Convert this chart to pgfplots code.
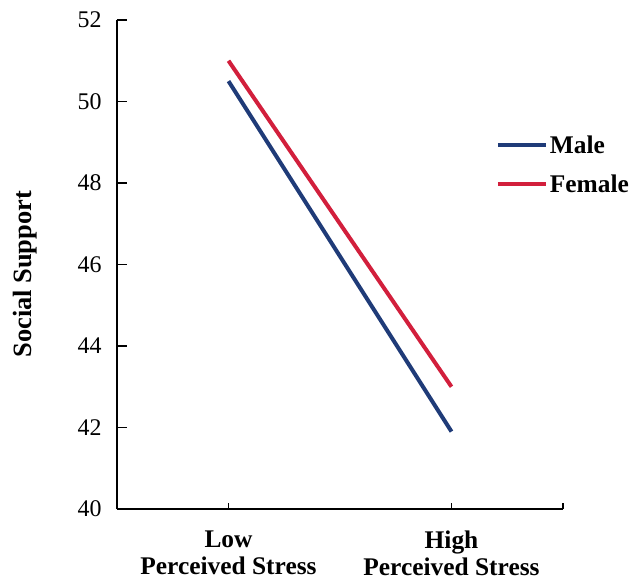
\documentclass[border=0pt]{standalone}
\usepackage{fontspec}
\setmainfont{Liberation Serif}
\usepackage{pgfplots}
\pgfplotsset{compat=1.18}
\definecolor{maleblue}{HTML}{1F3B78}
\definecolor{femred}{HTML}{D21F3C}
\begin{document}
\begin{tikzpicture}
\begin{axis}[
  scale only axis,
  width=446bp, height=489bp,
  xmin=0, xmax=2, ymin=40, ymax=52,
  axis lines*=left,
  axis line style={line width=1.6bp, black, -},
  xtick={0.5,1.5},
  xticklabels={{Low\\Perceived Stress},{High\\Perceived Stress}},
  extra x ticks={2},
  extra x tick labels={},
  ytick={40,42,...,52},
  tick align=inside,
  major tick length=10bp,
  x tick style={/pgfplots/major tick length=6bp},
  tick style={line width=1.6bp, black},
  /pgf/number format/assume math mode=true,
  yticklabel style={font=\fontsize{24}{28}\selectfont, xshift=-12bp},
  xticklabel style={font=\fontsize{25.5}{27}\selectfont\bfseries, align=center, yshift=-18bp},
  ylabel={Social Support},
  ylabel style={font=\fontsize{26.5}{30}\selectfont\bfseries, at={(axis description cs:-0.205,0.48)}, anchor=center},
  legend style={draw=none, fill=none, at={(axis cs:1.685,49.27)}, anchor=north west,
    font=\fontsize{25.5}{30}\selectfont\bfseries, row sep=16bp},
  legend cell align=left,
  legend image code/.code={\draw[#1, line width=4bp] (0bp,0bp) -- (48bp,0bp);},
  clip=false,
]
\addplot[maleblue, line width=4bp] coordinates {(0.5,50.5) (1.5,41.9)};
\addlegendentry{Male}
\addplot[femred, line width=4bp] coordinates {(0.5,51.0) (1.5,43.0)};
\addlegendentry{Female}
\end{axis}
\pgfresetboundingbox
\path[use as bounding box] (-117bp,-74bp) rectangle (515bp,509bp);
\end{tikzpicture}
\end{document}
